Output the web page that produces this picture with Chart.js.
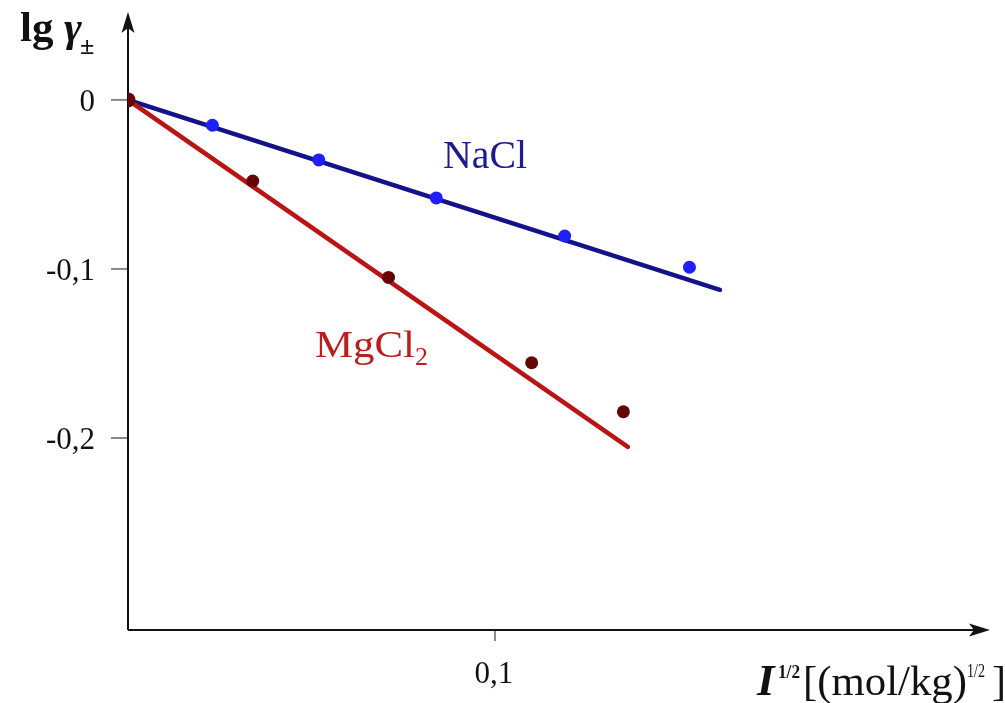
<!DOCTYPE html>
<html>
<head>
<meta charset="utf-8">
<script src="https://cdn.jsdelivr.net/npm/chart.js@4.4.1/dist/chart.umd.min.js"></script>
<style>
  html, body { margin: 0; padding: 0; background: #fff; }
  #wrap { width: 1005px; height: 703px; }
</style>
</head>
<body>
<div id="wrap"><canvas id="myChart" width="1005" height="703"></canvas></div>
<script>
// measured points, lg gamma vs sqrt(I)
var naclX = [0.023, 0.052, 0.084, 0.119, 0.153];
var naclY = [-0.015, -0.0355, -0.058, -0.0805, -0.099];
var mgX = [0, 0.034, 0.071, 0.110, 0.135];
var mgY = [0, -0.048, -0.105, -0.1555, -0.1845];

// fitted straight lines
var naclFitX = [0, 0.1613];
var naclFitY = [0, -0.1124];
var mgFitX = [0, 0.1362];
var mgFitY = [0, -0.2053];

// tick labels
var yTicks = [0, -0.1, -0.2];
var yTickLabels = ["0", "-0,1", "-0,2"];
var xTicks = [0.1];
var xTickLabels = ["0,1"];

function pts(xs, ys){
    var out = [];
    for (var i = 0; i < xs.length; i++) out.push({x: xs[i], y: ys[i]});
    return out;
}

var SERIF = '"Liberation Serif", "Times New Roman", serif';

// draw text, optionally squeezed/stretched to a given width
function txt(ctx, s, x, y, font, w){
    ctx.font = font;
    if (!w){
        ctx.fillText(s, x, y);
        return;
    }
    var m = ctx.measureText(s).width;
    ctx.save();
    ctx.translate(x, y);
    ctx.scale(w / m, 1);
    ctx.fillText(s, 0, 0);
    ctx.restore();
}

function arrow(ctx, tx, ty, dir){
    ctx.save();
    ctx.translate(tx, ty);
    if (dir == 'right') ctx.rotate(Math.PI / 2);
    ctx.beginPath();
    ctx.moveTo(0, 0);
    ctx.lineTo(-6.5, 21);
    ctx.lineTo(0, 16);
    ctx.lineTo(6.5, 21);
    ctx.closePath();
    ctx.fillStyle = "#111";
    ctx.fill();
    ctx.restore();
}

var axesPlugin = {
    id: 'axesPlugin',
    beforeDatasetsDraw: function(chart){
        var ctx = chart.ctx;
        var xs = chart.scales.x, ys = chart.scales.y;
        var x0 = xs.getPixelForValue(0);
        var yb = chart.chartArea.bottom;
        var yt = chart.chartArea.top;
        var xr = chart.chartArea.right;
        ctx.save();
        // tick marks
        ctx.strokeStyle = "#888";
        ctx.lineWidth = 2;
        yTicks.forEach(function(v){
            var py = ys.getPixelForValue(v);
            ctx.beginPath(); ctx.moveTo(x0 - 17, py); ctx.lineTo(x0, py); ctx.stroke();
        });
        xTicks.forEach(function(v){
            var px = xs.getPixelForValue(v);
            ctx.beginPath(); ctx.moveTo(px, yb); ctx.lineTo(px, yb + 11); ctx.stroke();
        });
        // axes
        ctx.strokeStyle = "#111";
        ctx.lineWidth = 2;
        ctx.beginPath();
        ctx.moveTo(x0, yb); ctx.lineTo(x0, yt + 10);
        ctx.moveTo(x0, yb); ctx.lineTo(xr - 10, yb);
        ctx.stroke();
        arrow(ctx, x0, yt, 'up');
        arrow(ctx, xr, yb, 'right');

        // tick labels
        ctx.fillStyle = "#111";
        ctx.textAlign = "right";
        ctx.textBaseline = "alphabetic";
        yTicks.forEach(function(v, i){
            txt(ctx, yTickLabels[i], 95, ys.getPixelForValue(v) + 11, "31px " + SERIF);
        });
        ctx.textAlign = "center";
        xTicks.forEach(function(v, i){
            txt(ctx, xTickLabels[i], xs.getPixelForValue(v) - 1, yb + 53, "31px " + SERIF);
        });

        // y title: lg gamma_pm
        ctx.textAlign = "left";
        txt(ctx, "lg", 20, 41, "bold 43px " + SERIF);
        txt(ctx, "\u03b3", 64, 41, "bold italic 43px " + SERIF);
        txt(ctx, "\u00b1", 80, 54, "bold 26px " + SERIF);

        // x title: I^1/2 [(mol/kg)^1/2 ]
        txt(ctx, "I", 757, 695, "bold italic 45px " + SERIF);
        txt(ctx, "1/2", 778, 678, "bold 19px " + SERIF, 22);
        txt(ctx, "[(mol/kg)", 803, 695, "42px " + SERIF, 164);
        txt(ctx, "1/2", 967, 677, "19px " + SERIF, 18);
        txt(ctx, "]", 992, 695, "42px " + SERIF);
        ctx.restore();
    },
    afterDatasetsDraw: function(chart){
        var ctx = chart.ctx;
        ctx.save();
        ctx.textAlign = "left";
        ctx.textBaseline = "alphabetic";
        ctx.fillStyle = "#1c1c8f";
        txt(ctx, "NaCl", 443, 168, "40px " + SERIF, 84);
        ctx.fillStyle = "#bb1e1e";
        txt(ctx, "MgCl", 315, 357, "37px " + SERIF, 100);
        txt(ctx, "2", 415, 365, "26px " + SERIF);
        ctx.restore();
    }
};

var ctx = document.getElementById("myChart").getContext("2d");
var myChart = new Chart(ctx, {
    type: "scatter",
    data: {
        datasets: [
            {
                label: "NaCl fit",
                data: pts(naclFitX, naclFitY),
                showLine: true,
                borderColor: "#12128a",
                borderWidth: 4.5,
                borderCapStyle: "round",
                pointRadius: 0,
                order: 3
            },
            {
                label: "MgCl2 fit",
                data: pts(mgFitX, mgFitY),
                showLine: true,
                borderColor: "#bb1414",
                borderWidth: 4.5,
                borderCapStyle: "round",
                pointRadius: 0,
                order: 2
            },
            {
                label: "NaCl",
                data: pts(naclX, naclY),
                backgroundColor: "#1f1ffa",
                borderColor: "#1f1ffa",
                borderWidth: 0,
                pointRadius: 6.5,
                order: 1
            },
            {
                label: "MgCl2",
                data: pts(mgX, mgY),
                backgroundColor: "#650505",
                borderColor: "#650505",
                borderWidth: 0,
                pointRadius: [7.5, 6.5, 6.5, 6.5, 6.5],
                order: 0
            }
        ]
    },
    options: {
        responsive: false,
        animation: false,
        layout: {
            padding: { left: 128, right: 15, top: 12, bottom: 73 }
        },
        scales: {
            x: { type: "linear", min: 0, max: 0.2349, display: false },
            y: { type: "linear", min: -0.3136, max: 0.052, display: false }
        },
        plugins: {
            legend: { display: false },
            tooltip: { enabled: false }
        }
    },
    plugins: [axesPlugin]
});
</script>
</body>
</html>
